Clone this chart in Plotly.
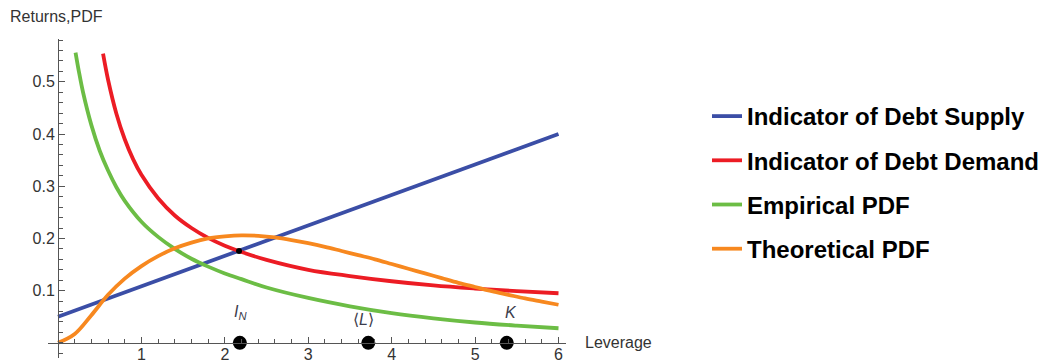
import plotly.graph_objects as go

# Indicator of debt supply (straight line)
supply_leverage = [0.0, 6.0]
supply_value = [0.05, 0.40]

# Indicator of debt demand
demand_leverage = [0.54, 0.6, 0.7, 0.8, 0.9, 1.0, 1.2, 1.4, 1.6, 1.8, 2.0, 2.2,
                   2.5, 3.0, 3.5, 4.0, 4.5, 5.0, 5.5, 6.0]
demand_value = [0.554, 0.504, 0.439, 0.390, 0.352, 0.322, 0.277, 0.244, 0.220, 0.201,
                0.186, 0.174, 0.159, 0.140, 0.128, 0.118, 0.110, 0.104, 0.099, 0.095]

# Empirical PDF
empirical_leverage = [0.21, 0.25, 0.3, 0.4, 0.5, 0.6, 0.7, 0.8, 1.0, 1.2, 1.4, 1.6, 1.8,
                      2.0, 2.2, 2.5, 3.0, 3.5, 4.0, 4.5, 5.0, 5.5, 6.0]
empirical_value = [0.556, 0.520, 0.480, 0.417, 0.368, 0.330, 0.298, 0.272, 0.232, 0.203,
                   0.180, 0.161, 0.146, 0.133, 0.122, 0.106, 0.086, 0.070, 0.057, 0.047,
                   0.039, 0.033, 0.028]

# Theoretical PDF
theoretical_leverage = [0.0, 0.2, 0.4, 0.6, 0.8, 1.0, 1.2, 1.4, 1.6, 1.8, 2.0, 2.2, 2.4,
                        2.6, 2.8, 3.0, 3.2, 3.4, 3.6, 3.8, 4.0, 4.2, 4.4, 4.6, 4.8, 5.0,
                        5.2, 5.4, 5.6, 5.8, 6.0]
theoretical_value = [0.0, 0.017, 0.053, 0.092, 0.123, 0.147, 0.166, 0.181, 0.192, 0.200,
                     0.204, 0.206, 0.205, 0.202, 0.197, 0.191, 0.184, 0.176, 0.168, 0.160,
                     0.151, 0.142, 0.133, 0.124, 0.115, 0.107, 0.099, 0.092, 0.085, 0.079,
                     0.073]

# Marked leverage levels on the axis
point_labels = ["<i>I<sub>N</sub></i>", "\u27e8<i>L</i>\u27e9", "<i>K</i>"]
point_leverage = [2.18, 3.72, 5.38]

# Supply/demand crossing
cross_leverage = [2.17]
cross_value = [0.176]

x_range = [-0.12, 6.09]
y_range = [-0.029, 0.582]

BLUE = "#3b4ea6"
RED = "#ec1c24"
GREEN = "#6cbd45"
ORANGE = "#f7881f"
AXIS = "#555555"
TEXT = "#333333"
FONT = "Liberation Sans, Arial, sans-serif"

fig = go.Figure()

series = [
    ("Indicator of Debt Supply", supply_leverage, supply_value, BLUE, "linear"),
    ("Indicator of Debt Demand", demand_leverage, demand_value, RED, "spline"),
    ("Empirical PDF", empirical_leverage, empirical_value, GREEN, "spline"),
    ("Theoretical PDF", theoretical_leverage, theoretical_value, ORANGE, "spline"),
]
for name, xs, ys, color, shape in series:
    fig.add_trace(go.Scatter(
        x=xs, y=ys, mode="lines", name="<b>" + name + "</b>",
        legendgroup=name,
        line=dict(color=color, width=3.8, shape=shape, smoothing=1.0),
        hoverinfo="skip",
    ))

fig.add_trace(go.Scatter(
    x=cross_leverage, y=cross_value, mode="markers",
    marker=dict(color="black", size=6), showlegend=False, hoverinfo="skip",
))
fig.add_trace(go.Scatter(
    x=point_leverage, y=[0] * len(point_leverage), mode="markers",
    marker=dict(color="black", size=14), showlegend=False, hoverinfo="skip",
    cliponaxis=False,
))

label_xshift = [1, -5, 4]
label_yshift = [30, 23, 30]
for text, lev, dx, dy in zip(point_labels, point_leverage, label_xshift, label_yshift):
    fig.add_annotation(x=lev, y=0, xref="x", yref="y", text=text, showarrow=False,
                       xshift=dx, yshift=dy, font=dict(family=FONT, size=16, color="#3c3c4c"))

fig.add_annotation(x=1.033, y=0, xref="paper", yref="y", text="Leverage",
                   showarrow=False, xanchor="left", yanchor="middle",
                   font=dict(family=FONT, size=16, color=TEXT))
fig.add_annotation(x=-0.077, y=1.072, xref="paper", yref="paper",
                   text="Returns,PDF", showarrow=False, xanchor="left", yanchor="middle",
                   font=dict(family=FONT, size=16, color=TEXT))

x_axis_pos = (0 - y_range[0]) / (y_range[1] - y_range[0])
y_axis_pos = (0 - x_range[0]) / (x_range[1] - x_range[0])

fig.update_layout(
    width=1040, height=363,
    margin=dict(l=48, r=474, t=39, b=5),
    paper_bgcolor="white", plot_bgcolor="white",
    font=dict(family=FONT, color=TEXT),
    xaxis=dict(
        range=x_range, anchor="free", position=x_axis_pos,
        showgrid=False, zeroline=False, showline=True, linecolor=AXIS, linewidth=1,
        tickmode="array", tickvals=[1, 2, 3, 4, 5, 6],
        ticks="inside", ticklen=6, tickcolor=AXIS, tickwidth=1,
        tickfont=dict(family=FONT, size=16, color=TEXT),
        ticklabelstandoff=-3,
        minor=dict(tickmode="linear", tick0=0, dtick=0.2, ticks="inside",
                   ticklen=3.5, tickcolor=AXIS, tickwidth=1),
        automargin=False,
    ),
    yaxis=dict(
        range=y_range, anchor="free", position=y_axis_pos,
        showgrid=False, zeroline=False, showline=True, linecolor=AXIS, linewidth=1,
        tickmode="array", tickvals=[0.1, 0.2, 0.3, 0.4, 0.5],
        ticks="inside", ticklen=6, tickcolor=AXIS, tickwidth=1,
        tickfont=dict(family=FONT, size=16, color=TEXT),
        minor=dict(tickmode="linear", tick0=0, dtick=0.02, ticks="inside",
                   ticklen=3.5, tickcolor=AXIS, tickwidth=1),
        automargin=False,
    ),
    legend=dict(
        xref="container", yref="container",
        x=707 / 1040, y=1 - 94 / 363, xanchor="left", yanchor="top",
        font=dict(family=FONT, size=24, color="black"),
        tracegroupgap=10, bgcolor="rgba(0,0,0,0)",
    ),
    showlegend=True,
)

fig.write_html("out.html")
